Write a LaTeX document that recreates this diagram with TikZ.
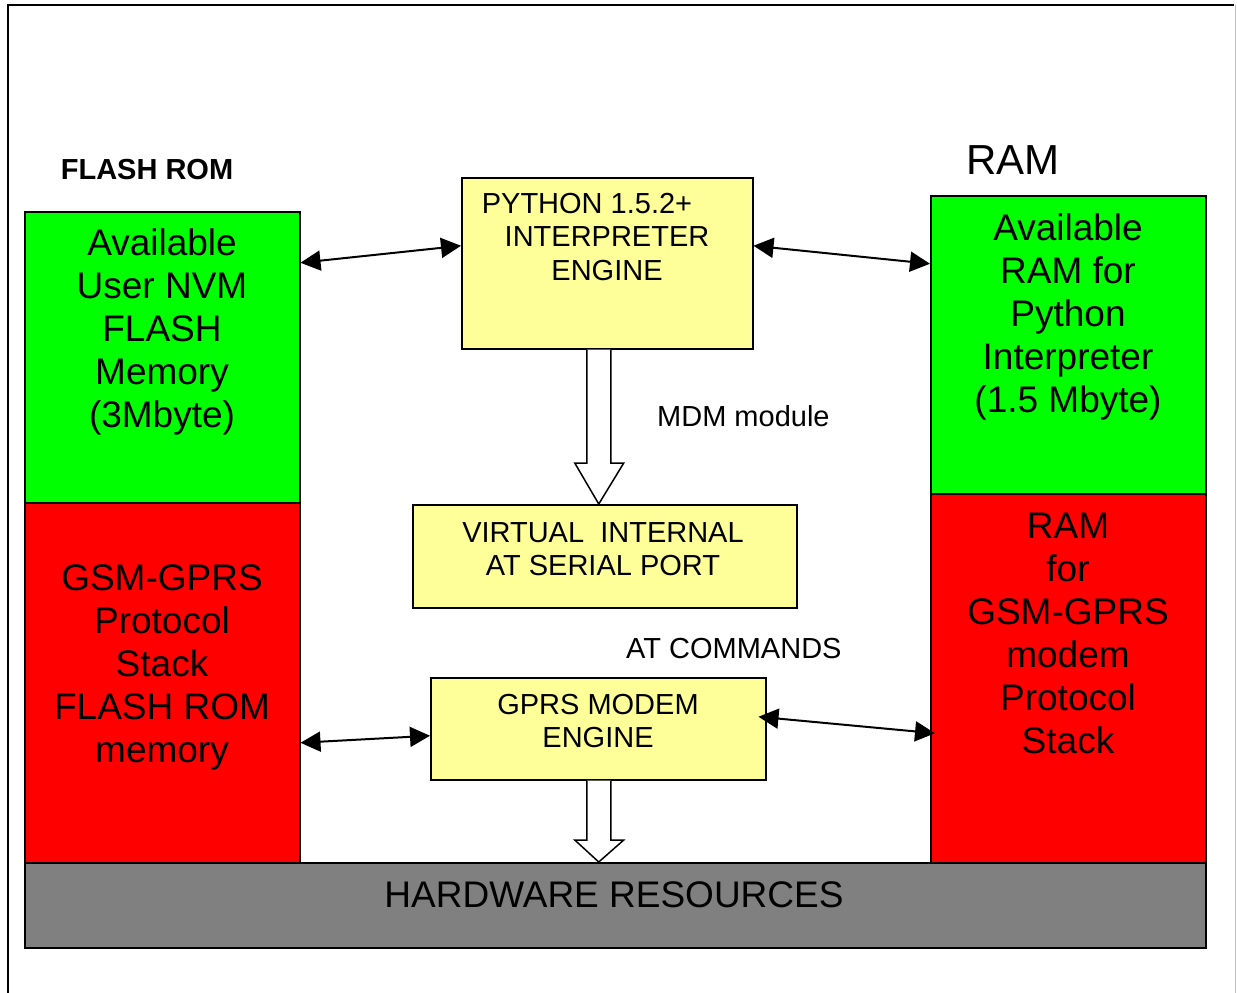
\documentclass[tikz,border=0pt]{standalone}
\usepackage{fontspec}
\setmainfont{Liberation Sans}
\usetikzlibrary{calc,arrows.meta}
\definecolor{gbox}{HTML}{00FF00}
\definecolor{rbox}{HTML}{FF0000}
\definecolor{ybox}{HTML}{FFFF99}
\definecolor{hbox}{HTML}{808080}
\definecolor{edgegray}{HTML}{C0C0C0}
\tikzset{
  box/.style={draw=black, line width=1.5pt, inner sep=0pt, anchor=north west},
  big/.style={font={\fontsize{37}{43}\selectfont}, align=center, inner sep=0pt},
  mid/.style={font={\fontsize{29}{33.5}\selectfont}, align=center, inner sep=0pt},
  dbl/.style={line width=2pt, {Triangle[length=20pt,width=20pt]}-{Triangle[length=20pt,width=20pt]}},
  hollow/.style={draw=black, line width=1.5pt, fill=white, line join=miter}
}
\begin{document}
\begin{tikzpicture}[x=1pt,y=-1pt]
\path[use as bounding box] (0,0) rectangle (1237,993);
% outer frame
\draw[line width=2pt] (8,993) -- (8,4.5) -- (1234,4.5);
\draw[edgegray, line width=1.5pt] (1235.5,4.5) -- (1235.5,993);

% boxes
\node[box, fill=gbox, minimum width=275pt, minimum height=291pt] (lg) at (24,211) {};
\node[box, fill=rbox, minimum width=275pt, minimum height=360pt] (lr) at (24,502) {};
\node[box, fill=gbox, minimum width=275pt, minimum height=298pt] (rg) at (930,195) {};
\node[box, fill=rbox, minimum width=275pt, minimum height=369pt] (rr) at (930,493) {};
\node[box, fill=ybox, minimum width=291pt, minimum height=171pt] (py) at (461,177) {};
\node[box, fill=ybox, minimum width=384pt, minimum height=103pt] (vi) at (412,504) {};
\node[box, fill=ybox, minimum width=335pt, minimum height=102pt] (gm) at (430,677) {};
\node[box, fill=hbox, minimum width=1181pt, minimum height=85pt] (hw) at (24,862) {};

% titles
\node[inner sep=0pt, font={\bfseries\fontsize{29}{33}\selectfont}] (tflash) at (147,170) {FLASH ROM};
\node[inner sep=0pt, font={\fontsize{42}{48}\selectfont}] (tram) at (1013,160) {RAM};

% box texts
\node[big] (lgt) at (162,332) {Available\\User NVM\\FLASH\\Memory\\(3Mbyte)};
\node[big] (lrt) at (162,667) {GSM-GPRS\\Protocol\\Stack\\FLASH ROM\\memory};
\node[big] (rgt) at (1068,317) {Available\\RAM for\\Python\\Interpreter\\(1.5 Mbyte)};
\node[big] (rrt) at (1068,633) {RAM\\for\\GSM-GPRS\\modem\\Protocol\\Stack};
\node[mid] (pyt) at (607,237) {PYTHON 1.5.2+\hspace*{40pt}\\INTERPRETER\\ENGINE};
\node[mid] (vit) at (603,549) {VIRTUAL\ \ INTERNAL\\AT SERIAL PORT};
\node[mid] (gmt) at (598,721) {GPRS MODEM\\ENGINE};
\node[big] (hwt) at (614,895) {HARDWARE RESOURCES};
\node[mid, anchor=west] (mdm) at (657,416) {MDM module};
\node[mid, anchor=west] (atc) at (626,649) {AT COMMANDS};

% double arrows
\draw[dbl] ($(lg.east)+(0,-94.5)$) -- ($(py.west)+(0,-17.5)$);
\draw[dbl] ($(py.east)+(0,-17.5)$) -- ($(rg.west)+(0,-81)$);
\draw[dbl] ($(lr.east)+(0,60)$) -- ($(gm.west)+(0,7)$);
\draw[dbl] ($(gm.east)+(-8,-12)$) -- ($(rr.west)+(5,55)$);

% hollow block arrows
\draw[hollow] ($(py.south)+(-20.5,0)$) -- ($(py.south |- vi.north)+(-20.5,-41)$) -- ($(py.south |- vi.north)+(-32.5,-41)$)
  -- ($(py.south |- vi.north)+(-8.5,0)$)
  -- ($(py.south |- vi.north)+(16.5,-41)$) -- ($(py.south |- vi.north)+(3.5,-41)$) -- ($(py.south)+(3.5,0)$);
\draw[hollow] ($(gm.south)+(-11.5,0)$) -- ($(gm.south |- hw.north)+(-11.5,-22)$) -- ($(gm.south |- hw.north)+(-23.5,-22)$)
  -- ($(gm.south |- hw.north)+(0.5,0)$)
  -- ($(gm.south |- hw.north)+(25.5,-22)$) -- ($(gm.south |- hw.north)+(12.5,-22)$) -- ($(gm.south)+(12.5,0)$);
\end{tikzpicture}
\end{document}
